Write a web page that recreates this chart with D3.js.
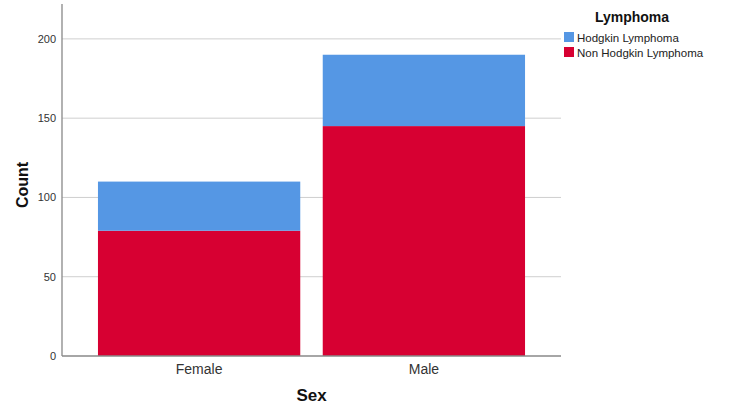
<!DOCTYPE html>
<html lang="en">
<head>
<meta charset="UTF-8">
<script src="https://cdnjs.cloudflare.com/ajax/libs/d3/7.8.5/d3.min.js"></script>
<style>
  body { margin: 0; background: #fff; }
  text { font-family: "Liberation Sans", Arial, sans-serif; }
</style>
</head>
<body>
<div id="container"></div>
<script>
    // ---- data ----
    const categories = ["Female", "Male"];
    const seriesNames = ["Non Hodgkin Lymphoma", "Hodgkin Lymphoma"];
    const nonHodgkin = [79, 145];
    const hodgkin = [31, 45];
    const yTicks = [0, 50, 100, 150, 200];
    const legendOrder = ["Hodgkin Lymphoma", "Non Hodgkin Lymphoma"];

    const colors = {
        "Hodgkin Lymphoma": "#5597e4",
        "Non Hodgkin Lymphoma": "#d70032"
    };

    const width = 750, height = 419;
    const plot = { left: 62, right: 561, top: 4, bottom: 356 };

    const svg = d3.select("#container").append("svg")
        .attr("width", width)
        .attr("height", height);

    // scales
    const x = d3.scaleBand()
        .domain(categories)
        .range([plot.left, plot.right])
        .paddingInner(0.1)
        .paddingOuter(0.16);

    const y = d3.scaleLinear()
        .domain([0, 222])
        .range([plot.bottom, plot.top]);

    // gridlines
    svg.append("g")
        .selectAll("line")
        .data(yTicks.filter(d => d > 0))
        .join("line")
        .attr("x1", plot.left)
        .attr("x2", plot.right)
        .attr("y1", d => y(d))
        .attr("y2", d => y(d))
        .attr("stroke", "#cfcfcf")
        .attr("stroke-width", 1);

    // stacked bars
    const rows = categories.map((c, i) => ({
        cat: c,
        "Non Hodgkin Lymphoma": nonHodgkin[i],
        "Hodgkin Lymphoma": hodgkin[i]
    }));
    const stack = d3.stack().keys(seriesNames)(rows);

    svg.append("g")
        .selectAll("g")
        .data(stack)
        .join("g")
        .attr("fill", d => colors[d.key])
        .selectAll("rect")
        .data(d => d)
        .join("rect")
        .attr("x", d => x(d.data.cat))
        .attr("width", x.bandwidth())
        .attr("y", d => y(d[1]))
        .attr("height", d => y(d[0]) - y(d[1]));

    // y axis
    const yAxis = svg.append("g")
        .attr("transform", `translate(${plot.left},0)`)
        .call(d3.axisLeft(y).tickValues(yTicks).tickSize(0).tickPadding(6));
    yAxis.select(".domain").remove();
    yAxis.selectAll("text")
        .attr("font-size", 11)
        .attr("fill", "#333")
        .style("font-family", "'Liberation Sans', Arial, sans-serif");

    // x axis
    const xAxis = svg.append("g")
        .attr("transform", `translate(0,${plot.bottom})`)
        .call(d3.axisBottom(x).tickSize(0).tickPadding(8));
    xAxis.select(".domain").remove();
    xAxis.selectAll("text")
        .attr("font-size", 14)
        .attr("fill", "#333")
        .style("font-family", "'Liberation Sans', Arial, sans-serif");

    // axis lines
    svg.append("line")
        .attr("x1", plot.left).attr("x2", plot.left)
        .attr("y1", plot.top).attr("y2", plot.bottom)
        .attr("stroke", "#888").attr("stroke-width", 1.3);
    svg.append("line")
        .attr("x1", plot.left).attr("x2", plot.right)
        .attr("y1", plot.bottom).attr("y2", plot.bottom)
        .attr("stroke", "#888").attr("stroke-width", 1.3);

    // axis titles
    svg.append("text")
        .attr("transform", `translate(28,${(plot.top + plot.bottom) / 2 + 5}) rotate(-90)`)
        .attr("text-anchor", "middle")
        .attr("font-size", 16)
        .attr("font-weight", "bold")
        .attr("fill", "#111")
        .text("Count");

    svg.append("text")
        .attr("x", (plot.left + plot.right) / 2)
        .attr("y", 401)
        .attr("text-anchor", "middle")
        .attr("font-size", 17)
        .attr("font-weight", "bold")
        .attr("fill", "#111")
        .text("Sex");

    // legend
    const legend = svg.append("g");
    legend.append("text")
        .attr("x", 632)
        .attr("y", 22)
        .attr("text-anchor", "middle")
        .attr("font-size", 14)
        .attr("font-weight", "bold")
        .attr("fill", "#111")
        .text("Lymphoma");

    const items = legend.selectAll("g.item")
        .data(legendOrder)
        .join("g")
        .attr("class", "item")
        .attr("transform", (d, i) => `translate(564,${32 + i * 15})`);
    items.append("rect")
        .attr("width", 10)
        .attr("height", 10)
        .attr("fill", d => colors[d]);
    items.append("text")
        .attr("x", 13)
        .attr("y", 9.5)
        .attr("font-size", 11.5)
        .attr("fill", "#222")
        .text(d => d);
</script>
</body>
</html>
